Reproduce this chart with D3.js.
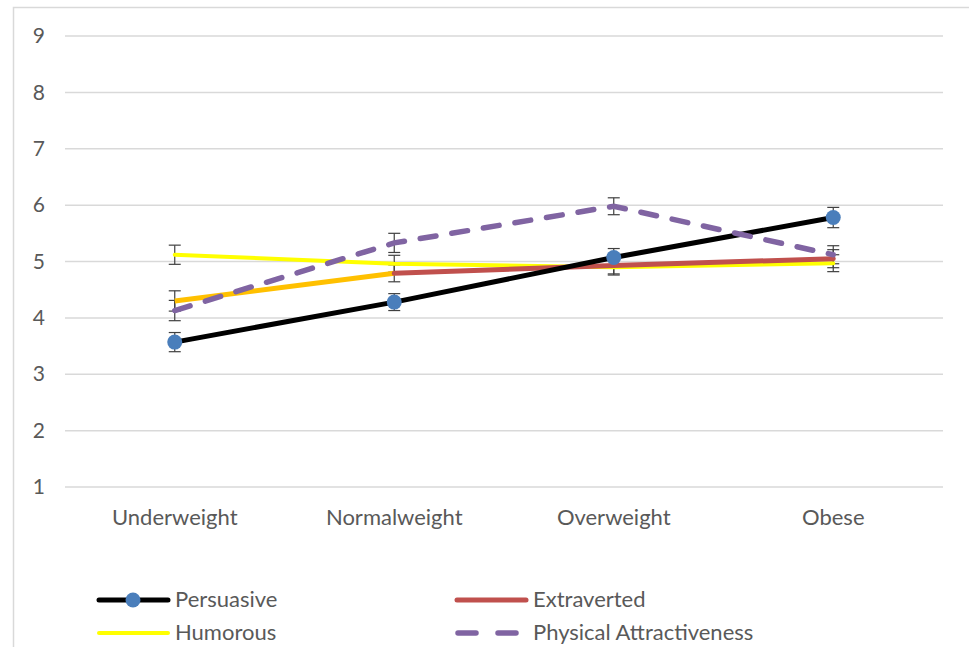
<!DOCTYPE html>
<html>
<head>
<meta charset="utf-8">
<script src="https://cdn.jsdelivr.net/npm/d3@7/dist/d3.min.js"></script>
<style>
  html, body { margin: 0; padding: 0; background: #fff; }
  svg { display: block; }
  text { font-family: Lato, "Open Sans", sans-serif; fill: #595959; }
</style>
</head>
<body>
<svg id="chart" width="969" height="647"></svg>
<script>
// Weight categories along the x axis
const categories = ["Underweight", "Normalweight", "Overweight", "Obese"];
const yTicks = [1, 2, 3, 4, 5, 6, 7, 8, 9];

// Mean ratings per weight category
const persuasive = [3.57, 4.28, 5.07, 5.78];
const extraverted = [4.30, 4.79, 4.93, 5.05];
const humorous = [5.12, 4.96, 4.90, 4.97];
const physical = [4.13, 5.33, 5.98, 5.12];

// Error bar half-widths
const persuasiveErr = [0.17, 0.15, 0.16, 0.18];
const extravertedErr = [0.18, 0.15, 0.15, 0.16];
const humorousErr = [0.17, 0.15, 0.14, 0.15];
const physicalErr = [0.18, 0.17, 0.15, 0.16];

const seriesNames = ["Persuasive", "Extraverted", "Humorous", "Physical Attractiveness"];

const svg = d3.select("#chart");
const font = "Lato, 'Open Sans', sans-serif";

// outer frame
svg.append("rect")
  .attr("x", 13.5).attr("y", 7.5)
  .attr("width", 970).attr("height", 700)
  .attr("fill", "none").attr("stroke", "#d9d9d9").attr("stroke-width", 1.5);

const plot = { left: 65, right: 943, top: 36, bottom: 487 };

const x = d3.scaleBand().domain(categories).range([plot.left, plot.right]);
const y = d3.scaleLinear().domain([1, 9]).range([plot.bottom, plot.top]);
const cx = c => x(c) + x.bandwidth() / 2;

// horizontal gridlines
svg.append("g").selectAll("line").data(yTicks).join("line")
  .attr("x1", plot.left).attr("x2", plot.right)
  .attr("y1", d => y(d)).attr("y2", d => y(d))
  .attr("stroke", "#d9d9d9").attr("stroke-width", 1.5);

// y axis labels
const yAxis = d3.axisLeft(y).tickValues(yTicks).tickSize(0).tickPadding(0);
svg.append("g").attr("transform", `translate(${plot.left - 20},0)`).call(yAxis)
  .call(g => g.select(".domain").remove())
  .call(g => g.selectAll("text").attr("font-size", 21).attr("fill", "#595959")
    .style("font-family", font));

// x axis labels
const xAxis = d3.axisBottom(x).tickSize(0).tickPadding(0);
svg.append("g").attr("transform", `translate(0,${plot.bottom + 22})`).call(xAxis)
  .call(g => g.select(".domain").remove())
  .call(g => g.selectAll("text").attr("font-size", 22).attr("fill", "#595959")
    .style("font-family", font));

const line = d3.line().x((d, i) => cx(categories[i])).y(d => y(d));

// error bars
function errorBars(values, errs) {
  const g = svg.append("g").attr("stroke", "#404040").attr("stroke-width", 1.2);
  values.forEach((v, i) => {
    const px = cx(categories[i]);
    const y0 = y(v - errs[i]), y1 = y(v + errs[i]);
    g.append("line").attr("x1", px).attr("x2", px).attr("y1", y0).attr("y2", y1);
    g.append("line").attr("x1", px - 6).attr("x2", px + 6).attr("y1", y0).attr("y2", y0);
    g.append("line").attr("x1", px - 6).attr("x2", px + 6).attr("y1", y1).attr("y2", y1);
  });
}

const colors = {
  persuasive: "#000000",
  marker: "#4a7ebb",
  extraverted: "#c0504d",
  extravertedFirst: "#ffc000",
  humorous: "#ffff00",
  physical: "#8064a2"
};

errorBars(humorous, humorousErr);
errorBars(extraverted, extravertedErr);
errorBars(physical, physicalErr);
errorBars(persuasive, persuasiveErr);

// Humorous
svg.append("path").attr("d", line(humorous))
  .attr("fill", "none").attr("stroke", colors.humorous).attr("stroke-width", 4)
  .attr("stroke-linecap", "round").attr("stroke-linejoin", "round");

// Extraverted: first segment drawn in orange, remaining segments red
extraverted.slice(1).forEach((v, j) => {
  const i = j + 1;
  svg.append("line")
    .attr("x1", cx(categories[i - 1])).attr("y1", y(extraverted[i - 1]))
    .attr("x2", cx(categories[i])).attr("y2", y(v))
    .attr("stroke", i === 1 ? colors.extravertedFirst : colors.extraverted)
    .attr("stroke-width", 5).attr("stroke-linecap", i === 1 ? "butt" : "round");
});

// Persuasive
svg.append("path").attr("d", line(persuasive))
  .attr("fill", "none").attr("stroke", colors.persuasive).attr("stroke-width", 5)
  .attr("stroke-linecap", "round").attr("stroke-linejoin", "round");

// Physical attractiveness (dashed)
svg.append("path").attr("d", line(physical))
  .attr("fill", "none").attr("stroke", colors.physical).attr("stroke-width", 5.5)
  .attr("stroke-dasharray", "16 16").attr("stroke-linecap", "round");

// Persuasive markers
svg.append("g").selectAll("circle").data(persuasive).join("circle")
  .attr("cx", (d, i) => cx(categories[i])).attr("cy", d => y(d)).attr("r", 7.5)
  .attr("fill", colors.marker);

// Legend
const legend = svg.append("g");
const legendItems = [
  { name: seriesNames[0], x: 97, y: 600, color: colors.persuasive, w: 5, marker: true },
  { name: seriesNames[1], x: 455, y: 600, color: colors.extraverted, w: 5 },
  { name: seriesNames[2], x: 97, y: 633, color: colors.humorous, w: 4 },
  { name: seriesNames[3], x: 455, y: 633, color: colors.physical, w: 5.5, dash: "18 22" }
];
legendItems.forEach(it => {
  const l = legend.append("line")
    .attr("x1", it.x + 2).attr("x2", it.x + 71).attr("y1", it.y).attr("y2", it.y)
    .attr("stroke", it.color).attr("stroke-width", it.w).attr("stroke-linecap", "round");
  if (it.dash) l.attr("stroke-dasharray", it.dash).attr("x1", it.x + 3).attr("x2", it.x + 73);
  if (it.marker) legend.append("circle").attr("cx", it.x + 36).attr("cy", it.y).attr("r", 7.5)
    .attr("fill", colors.marker);
  legend.append("text").attr("x", it.x + 78).attr("y", it.y - 1).attr("dy", "0.35em")
    .attr("font-size", 22).style("font-family", font).text(it.name);
});
</script>
</body>
</html>
